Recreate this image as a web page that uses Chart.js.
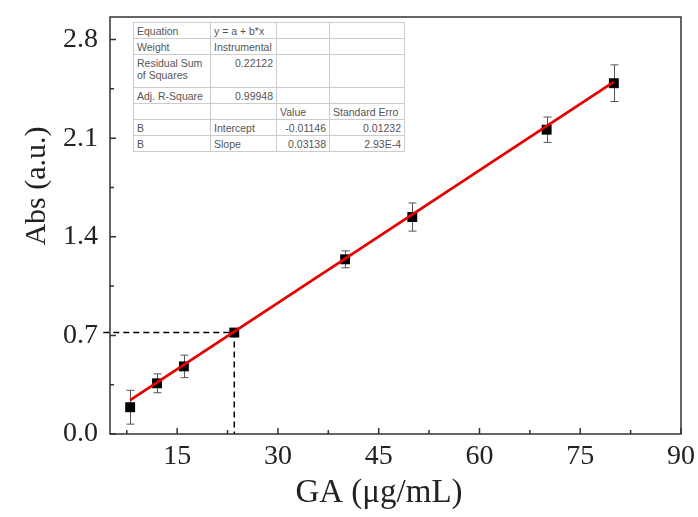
<!DOCTYPE html>
<html>
<head>
<meta charset="utf-8">
<script src="https://cdn.jsdelivr.net/npm/chart.js@4.4.0/dist/chart.umd.min.js"></script>
<style>
  html, body { margin: 0; padding: 0; background: #fff; }
  #wrap { position: relative; width: 698px; height: 517px; }
  #fitTable {
    position: absolute; left: 133px; top: 22px;
    width: 271px; table-layout: fixed;
    border-collapse: collapse; background: #fff;
    font-family: Arial, "Liberation Sans", sans-serif; font-size: 10.5px; color: #555;
    border: 1px solid #888;
  }
  #fitTable td {
    border: 1px solid #ccc; padding: 0 3px; height: 15px; line-height: 12px;
    white-space: nowrap; overflow: hidden; vertical-align: middle;
  }
  #fitTable td.r { text-align: right; }
  #fitTable tr.tall td { height: 30px; vertical-align: top; padding-top: 2px; }
</style>
</head>
<body>
<div id="wrap">
  <canvas id="calib" width="698" height="517"></canvas>
  <table id="fitTable">
    <colgroup><col style="width:77px"><col style="width:66px"><col style="width:53px"><col style="width:75px"></colgroup>
    <tr><td>Equation</td><td>y = a + b*x</td><td></td><td></td></tr>
    <tr><td>Weight</td><td>Instrumental</td><td></td><td></td></tr>
    <tr class="tall"><td>Residual Sum<br>of Squares</td><td class="r">0.22122</td><td></td><td></td></tr>
    <tr><td>Adj. R-Square</td><td class="r">0.99948</td><td></td><td></td></tr>
    <tr><td></td><td></td><td>Value</td><td>Standard Erro</td></tr>
    <tr><td>B</td><td>Intercept</td><td class="r">-0.01146</td><td class="r">0.01232</td></tr>
    <tr><td>B</td><td>Slope</td><td class="r">0.03138</td><td class="r">2.93E-4</td></tr>
  </table>
</div>
<script>
// Standards: GA concentration (ug/mL) vs absorbance, with error bars
const concX = [8, 12, 16, 40, 50, 70, 80];
const absY = [0.19, 0.36, 0.48, 1.24, 1.54, 2.16, 2.49];
const absErr = [0.12, 0.067, 0.08, 0.06, 0.10, 0.09, 0.13];

// Unknown sample
const sampleX = 23.5;
const sampleY = 0.72;

// Linear fit line end points
const fitX = [8, 80];
const fitY = [0.24, 2.50];

// Axis ticks
const xTicks = [15, 30, 45, 60, 75, 90];
const xMinor = [7.5, 22.5, 37.5, 52.5, 67.5, 82.5];
const yTicks = [0, 0.7, 1.4, 2.1, 2.8];
const yMinor = [0.35, 1.05, 1.75, 2.45];

const xTitle = 'GA (\u03bcg/mL)';
const yTitle = 'Abs (a.u.)';

const SERIF = '"Liberation Serif", "Times New Roman", serif';

// no extra room for edge labels: keep the plot box where the layout puts it
function noScalePadding(s) {
  s.paddingTop = 0; s.paddingBottom = 0; s.paddingLeft = 0; s.paddingRight = 0;
}

const frameAndErrors = {
  id: 'frameAndErrors',
  beforeDatasetsDraw(chart) {
    const { ctx, scales: { x, y } } = chart;
    ctx.save();
    ctx.strokeStyle = '#555';
    ctx.lineWidth = 1;
    concX.forEach((c, i) => {
      const px = Math.round(x.getPixelForValue(c)) + 0.5;
      const top = y.getPixelForValue(absY[i] + absErr[i]);
      const bot = y.getPixelForValue(absY[i] - absErr[i]);
      ctx.beginPath();
      ctx.moveTo(px, top); ctx.lineTo(px, bot);
      ctx.moveTo(px - 4, top); ctx.lineTo(px + 4, top);
      ctx.moveTo(px - 4, bot); ctx.lineTo(px + 4, bot);
      ctx.stroke();
    });
    ctx.restore();
  },
  afterDraw(chart) {
    const { ctx, chartArea: a, scales: { x, y } } = chart;
    ctx.save();
    ctx.strokeStyle = '#333';
    ctx.lineWidth = 1.5;
    ctx.strokeRect(a.left, a.top, a.right - a.left, a.bottom - a.top);
    ctx.beginPath();
    xTicks.forEach(v => { const p = x.getPixelForValue(v); ctx.moveTo(p, a.bottom); ctx.lineTo(p, a.bottom - 6); });
    xMinor.forEach(v => { const p = x.getPixelForValue(v); ctx.moveTo(p, a.bottom); ctx.lineTo(p, a.bottom - 4); });
    yTicks.forEach(v => { const p = y.getPixelForValue(v); ctx.moveTo(a.left, p); ctx.lineTo(a.left + 6, p); });
    yMinor.forEach(v => { const p = y.getPixelForValue(v); ctx.moveTo(a.left, p); ctx.lineTo(a.left + 4, p); });
    ctx.stroke();

    // axis titles (sit a little off-centre in the original)
    ctx.fillStyle = '#222';
    ctx.font = '33px ' + SERIF;
    ctx.textAlign = 'center';
    ctx.textBaseline = 'alphabetic';
    ctx.fillText(xTitle, 379, 502);
    ctx.font = '30px ' + SERIF;
    ctx.translate(45, 186);
    ctx.rotate(-Math.PI / 2);
    ctx.fillText(yTitle, 0, 0);
    ctx.restore();
  }
};

new Chart(document.getElementById('calib'), {
  type: 'scatter',
  data: {
    datasets: [
      {
        label: 'Linear fit',
        type: 'line',
        data: fitX.map((v, i) => ({ x: v, y: fitY[i] })),
        borderColor: '#e60000',
        borderWidth: 2.8,
        pointRadius: 0,
        order: 0,
      },
      {
        label: 'Standards',
        data: concX.map((v, i) => ({ x: v, y: absY[i] })),
        pointStyle: 'rect',
        pointRadius: 7,
        backgroundColor: '#000',
        borderColor: '#000',
        borderWidth: 0,
        order: 1,
      },
      {
        label: 'Sample',
        data: [{ x: sampleX, y: sampleY }],
        pointStyle: 'rect',
        pointRadius: 7,
        backgroundColor: '#000',
        borderColor: '#000',
        borderWidth: 0,
        order: 1,
      },
      {
        label: 'Guide',
        type: 'line',
        data: [{ x: 4, y: sampleY }, { x: sampleX, y: sampleY }, { x: sampleX, y: 0 }],
        borderColor: '#000',
        borderWidth: 1.5,
        borderDash: [6, 4],
        pointRadius: 0,
        clip: false,
        order: 2,
      },
    ]
  },
  options: {
    responsive: false,
    animation: false,
    layout: { padding: { top: 17, right: 17, left: 0, bottom: 0 } },
    plugins: {
      legend: { display: false },
      tooltip: { enabled: false },
    },
    scales: {
      x: {
        type: 'linear',
        min: 5,
        max: 90,
        afterBuildTicks: s => { s.ticks = xTicks.map(v => ({ value: v })); },
        afterFit: s => { s.height = 83; noScalePadding(s); },
        grid: { display: false, drawTicks: false },
        border: { display: false },
        ticks: { font: { family: SERIF, size: 28 }, color: '#222', padding: 6, callback: v => String(v) },
        title: { display: false },
      },
      y: {
        type: 'linear',
        min: 0,
        max: 2.96,
        afterBuildTicks: s => { s.ticks = yTicks.map(v => ({ value: v })); },
        afterFit: s => { s.width = 110; noScalePadding(s); },
        grid: { display: false, drawTicks: false },
        border: { display: false },
        ticks: { font: { family: SERIF, size: 28 }, color: '#222', padding: 12, callback: v => v.toFixed(1) },
        title: { display: false },
      },
    }
  },
  plugins: [frameAndErrors]
});
</script>
</body>
</html>
